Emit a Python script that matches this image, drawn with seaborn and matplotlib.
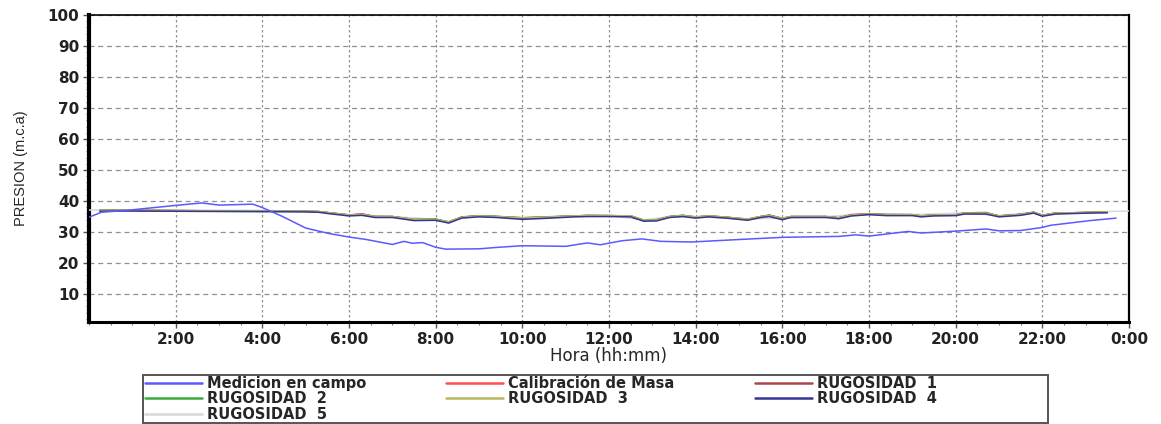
import numpy as np
import pandas as pd
import matplotlib
matplotlib.use("Agg")
import matplotlib.pyplot as plt
from matplotlib.ticker import MultipleLocator
from matplotlib.patches import Rectangle
import seaborn as sns

# ---------------- data ----------------
# Medicion en campo (hours, m.c.a)
hora_campo = [0.0, 0.29, 0.87, 2.0, 2.6, 3.0, 3.78, 4.0, 4.47, 5.0, 5.55, 6.0, 6.4, 7.0, 7.27,
              7.46, 7.7, 8.0, 8.23, 9.0, 9.46, 10.0, 11.0, 11.5, 11.8, 12.3, 12.76, 13.2, 13.9,
              15.0, 16.0, 17.3, 17.7, 18.0, 18.9, 19.2, 20.0, 20.7, 21.0, 21.5, 22.0, 22.2,
              23.1, 23.7]
medicion_campo = [34.8, 36.4, 37.0, 38.6, 39.4, 38.7, 39.0, 37.9, 35.0, 31.3, 29.5, 28.4, 27.6,
                  26.0, 27.0, 26.4, 26.6, 25.1, 24.5, 24.6, 25.1, 25.6, 25.4, 26.5, 25.9, 27.2,
                  27.8, 27.0, 26.8, 27.6, 28.3, 28.6, 29.1, 28.7, 30.2, 29.7, 30.3, 31.0, 30.4,
                  30.5, 31.5, 32.2, 33.7, 34.5]

# Simulated series (hours, m.c.a)
hora_sim = [0.25, 0.8, 5.0, 5.3, 5.5, 6.0, 6.3, 6.6, 7.0, 7.5, 8.0, 8.3, 8.6, 9.0, 9.4, 10.0,
            10.5, 11.2, 11.5, 12.0, 12.5, 12.8, 13.1, 13.4, 13.7, 14.0, 14.3, 14.7, 15.2, 15.5,
            15.7, 16.0, 16.2, 17.0, 17.3, 17.6, 18.0, 18.4, 19.0, 19.2, 19.5, 20.0, 20.2, 20.7,
            21.0, 21.5, 21.8, 22.0, 22.3, 23.0, 23.5]
calibracion = [37.0, 37.0, 36.7, 36.6, 36.3, 35.5, 35.9, 35.0, 35.0, 34.0, 34.1, 33.2, 34.8,
               35.2, 35.0, 34.5, 34.8, 35.2, 35.3, 35.3, 35.2, 33.8, 33.9, 35.0, 35.3, 34.8,
               35.2, 34.8, 34.1, 35.0, 35.4, 34.4, 35.0, 35.0, 34.6, 35.7, 35.9, 35.6, 35.6,
               35.2, 35.5, 35.5, 36.2, 36.2, 35.2, 35.7, 36.4, 35.4, 36.1, 36.3, 36.5]
rugosidad_1 = [37.0, 37.0, 36.7, 36.6, 36.3, 35.5, 35.8, 35.0, 35.0, 34.0, 34.1, 33.2, 34.9,
               35.2, 35.0, 34.6, 34.8, 35.2, 35.4, 35.3, 35.2, 33.8, 33.9, 35.0, 35.4, 34.8,
               35.2, 34.8, 34.1, 35.0, 35.5, 34.4, 35.0, 35.0, 34.6, 35.5, 35.8, 35.6, 35.6,
               35.2, 35.5, 35.5, 36.2, 36.3, 35.2, 35.7, 36.4, 35.4, 36.1, 36.3, 36.5]
rugosidad_2 = [37.0, 37.0, 36.7, 36.6, 36.3, 35.5, 35.6, 35.0, 35.0, 34.1, 34.2, 33.3, 34.8,
               35.3, 35.1, 34.6, 34.9, 35.2, 35.3, 35.3, 35.2, 33.9, 34.0, 35.0, 35.4, 34.9,
               35.2, 34.8, 34.2, 35.0, 35.3, 34.5, 35.0, 35.0, 34.6, 35.5, 35.8, 35.7, 35.6,
               35.2, 35.5, 35.6, 36.1, 36.1, 35.2, 35.7, 36.3, 35.4, 36.1, 36.3, 36.5]
rugosidad_3 = [37.0, 37.0, 36.7, 36.6, 36.3, 35.5, 35.7, 35.0, 35.0, 34.1, 34.1, 33.3, 34.8,
               35.2, 35.0, 34.6, 34.8, 35.2, 35.3, 35.3, 35.2, 33.9, 33.9, 35.0, 35.3, 34.9,
               35.2, 34.8, 34.2, 35.0, 35.3, 34.5, 35.0, 35.0, 34.6, 35.5, 35.8, 35.6, 35.7,
               35.2, 35.5, 35.6, 36.1, 36.1, 35.2, 35.7, 36.3, 35.4, 36.1, 36.3, 36.5]
rugosidad_4 = [36.7, 36.8, 36.5, 36.4, 36.0, 35.2, 35.4, 34.7, 34.7, 33.7, 33.8, 32.9, 34.5,
               34.9, 34.7, 34.1, 34.4, 34.9, 35.0, 35.0, 34.9, 33.5, 33.6, 34.7, 35.0, 34.5,
               34.9, 34.5, 33.8, 34.7, 35.0, 34.0, 34.7, 34.7, 34.3, 35.2, 35.6, 35.3, 35.3,
               34.9, 35.2, 35.3, 35.8, 35.8, 34.9, 35.4, 36.1, 35.1, 35.8, 36.1, 36.2]
hora_r5 = [0.0, 1.0, 4.0, 5.0, 6.0, 7.0, 8.0, 8.3, 8.6, 9.0, 10.0, 12.0, 12.8, 13.4, 14.0,
           15.2, 16.0, 17.0, 18.0, 19.0, 20.2, 21.0, 21.8, 22.0, 22.3, 23.0, 24.0]
rugosidad_5 = [37.1, 37.1, 37.0, 36.7, 35.6, 35.0, 34.1, 33.3, 34.8, 35.2, 34.6, 35.3, 33.9,
               35.0, 34.9, 34.2, 34.5, 35.0, 35.9, 35.6, 36.2, 35.3, 36.4, 35.5, 36.1, 36.4, 36.8]

series_names = ["Medicion en campo", "Calibración de Masa", "RUGOSIDAD  1", "RUGOSIDAD  2",
                "RUGOSIDAD  3", "RUGOSIDAD  4", "RUGOSIDAD  5"]
series_colors = ["#5a5aff", "#ff5050", "#a84848", "#3caa3c", "#b8b860", "#34349a", "#d8d8d8"]

x_ticks = [2, 4, 6, 8, 10, 12, 14, 16, 18, 20, 22, 24]
x_tick_labels = ["2:00", "4:00", "6:00", "8:00", "10:00", "12:00", "14:00", "16:00",
                 "18:00", "20:00", "22:00", "0:00"]
y_ticks = [10, 20, 30, 40, 50, 60, 70, 80, 90, 100]

# ---------------- plot ----------------
sns.set_style("white")
plt.rcParams["font.family"] = ["DejaVu Sans"]

W, H = 1161, 424
fig = plt.figure(figsize=(W / 100, H / 100), dpi=100)
ax = fig.add_axes([89 / W, 1 - 322 / H, (1129 - 89) / W, (322 - 15) / H])

frames = [
    (hora_campo, medicion_campo),
    (hora_sim, calibracion),
    (hora_sim, rugosidad_1),
    (hora_sim, rugosidad_2),
    (hora_sim, rugosidad_3),
    (hora_sim, rugosidad_4),
    (hora_r5, rugosidad_5),
]
zorders = [6, 4, 4.1, 4.2, 4.3, 4.4, 3]
for (hx, hy), name, col, z in zip(frames, series_names, series_colors, zorders):
    df = pd.DataFrame({"hora": hx, "valor": hy})
    sns.lineplot(data=df, x="hora", y="valor", ax=ax, color=col, linewidth=1.1,
                 zorder=z, label=name, legend=False)

ax.set_xlim(0, 24)
ax.set_ylim(1, 100)
ax.set_xticks(x_ticks)
ax.set_xticklabels(x_tick_labels)
ax.set_yticks(y_ticks)
ax.xaxis.set_minor_locator(MultipleLocator(0.5))
ax.yaxis.set_minor_locator(MultipleLocator(2))

ax.grid(True, axis="y", which="major", color="#909090", linestyle=(0, (4, 3)), linewidth=0.9)
ax.grid(True, axis="x", which="major", color="#909090", linestyle=(0, (2, 2)), linewidth=0.9)

ax.tick_params(axis="both", which="major", length=4, width=1, labelsize=11, color="#555555",
               direction="out", left=True, bottom=True, pad=3)
ax.tick_params(axis="both", which="minor", length=2.5, width=0.8, color="#777777",
               direction="out", left=True, bottom=True)
for lab in ax.get_xticklabels() + ax.get_yticklabels():
    lab.set_color("#222222")
    lab.set_fontweight("bold")

for side, lw in [("left", 3), ("bottom", 2.2), ("top", 1.2), ("right", 1.6)]:
    ax.spines[side].set_visible(True)
    ax.spines[side].set_color("black")
    ax.spines[side].set_linewidth(lw)

ax.set_xlabel("Hora (hh:mm)", fontsize=12, labelpad=0)
ax.set_ylabel("PRESION (m.c.a)", fontsize=10.5, family="Liberation Sans", labelpad=14)

h, l = ax.get_legend_handles_labels()
order = [0, 3, 6, 1, 4, 2, 5]
h = [h[i] for i in order]
l = [l[i] for i in order]
leg = fig.legend(h, l, loc="upper left", bbox_to_anchor=(143 / W, 1 - 374 / H),
                 ncol=3, frameon=False,
                 prop={"weight": "bold", "size": 10.5}, handlelength=3.9,
                 columnspacing=5.5, labelspacing=0.05, borderpad=0.12, handletextpad=0.35,
                 borderaxespad=0)
for line in leg.get_lines():
    line.set_linewidth(1.8)

# legend frame box
fig.patches.append(Rectangle((143 / W, 1 - 423 / H), (1048 - 143) / W, (423 - 375) / H,
                             transform=fig.transFigure, fill=False, edgecolor="#555555",
                             linewidth=1.4, zorder=0))

fig.savefig("out.png", dpi=100)
